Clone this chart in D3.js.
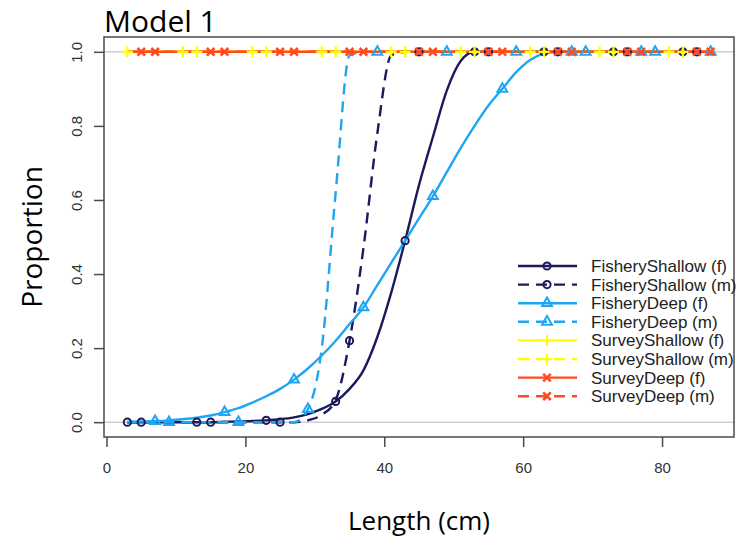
<!DOCTYPE html>
<html>
<head>
<meta charset="utf-8">
<script src="https://cdn.jsdelivr.net/npm/d3@7"></script>
<style>
    body { margin: 0; background: #fff; }
    text { font-family: "Liberation Sans", Arial, sans-serif; }
</style>
</head>
<body>
<svg id="chart"></svg>
<script>
// lengths (cm) where the selectivity curves were evaluated
let lengths = [3, 5, 7, 9, 11, 13, 15, 17, 19, 21, 23, 25, 27, 29, 31, 33, 35, 37, 39, 41, 43,
    45, 47, 49, 51, 53, 55, 57, 59, 61, 63, 65, 67, 69, 71, 73, 75, 77, 79, 81, 83, 85, 87];

let fisheryShallowF = [0, 0, 0, 0, 0, 0, 0, 0.001, 0.002, 0.003, 0.005, 0.008, 0.013, 0.022, 0.036, 0.056, 0.09, 0.14, 0.23, 0.35, 0.49,
    0.64, 0.77, 0.895, 0.975, 1, 1, 1, 1, 1, 1, 1, 1, 1, 1, 1, 1, 1, 1, 1, 1, 1, 1];
let fisheryShallowM = [0, 0, 0, 0, 0, 0, 0, 0, 0, 0, 0, 0, 0, 0.005, 0.02, 0.06, 0.22, 0.47, 0.78, 0.99, 1,
    1, 1, 1, 1, 1, 1, 1, 1, 1, 1, 1, 1, 1, 1, 1, 1, 1, 1, 1, 1, 1, 1];
let fisheryDeepF = [0.001, 0.002, 0.003, 0.005, 0.008, 0.012, 0.018, 0.027, 0.038, 0.053, 0.07, 0.09, 0.115, 0.145, 0.18, 0.22, 0.265, 0.31, 0.37, 0.43, 0.49,
    0.55, 0.61, 0.675, 0.74, 0.8, 0.855, 0.9, 0.945, 0.978, 0.995, 1, 1, 1, 1, 1, 1, 1, 1, 1, 1, 1, 1];
let fisheryDeepM = [0, 0, 0, 0, 0, 0, 0, 0, 0, 0, 0, 0, 0, 0.035, 0.2, 0.62, 0.99, 1, 1, 1, 1,
    1, 1, 1, 1, 1, 1, 1, 1, 1, 1, 1, 1, 1, 1, 1, 1, 1, 1, 1, 1, 1, 1];
let surveyShallowF = [1, 1, 1, 1, 1, 1, 1, 1, 1, 1, 1, 1, 1, 1, 1, 1, 1, 1, 1, 1, 1,
    1, 1, 1, 1, 1, 1, 1, 1, 1, 1, 1, 1, 1, 1, 1, 1, 1, 1, 1, 1, 1, 1];
let surveyShallowM = [1, 1, 1, 1, 1, 1, 1, 1, 1, 1, 1, 1, 1, 1, 1, 1, 1, 1, 1, 1, 1,
    1, 1, 1, 1, 1, 1, 1, 1, 1, 1, 1, 1, 1, 1, 1, 1, 1, 1, 1, 1, 1, 1];
let surveyDeepF = [1, 1, 1, 1, 1, 1, 1, 1, 1, 1, 1, 1, 1, 1, 1, 1, 1, 1, 1, 1, 1,
    1, 1, 1, 1, 1, 1, 1, 1, 1, 1, 1, 1, 1, 1, 1, 1, 1, 1, 1, 1, 1, 1];
let surveyDeepM = [1, 1, 1, 1, 1, 1, 1, 1, 1, 1, 1, 1, 1, 1, 1, 1, 1, 1, 1, 1, 1,
    1, 1, 1, 1, 1, 1, 1, 1, 1, 1, 1, 1, 1, 1, 1, 1, 1, 1, 1, 1, 1, 1];

let seriesNames = ["FisheryShallow (f)", "FisheryShallow (m)", "FisheryDeep (f)", "FisheryDeep (m)",
    "SurveyShallow (f)", "SurveyShallow (m)", "SurveyDeep (f)", "SurveyDeep (m)"];

let xTicks = [0, 20, 40, 60, 80];
let yTicks = [0, 0.2, 0.4, 0.6, 0.8, 1];

let width = 739;
let height = 539;
let box = { left: 104, top: 37, right: 734, bottom: 437 };

let navy = "#1c1a5c";
let sky = "#1ea6f2";
let yellow = "#ffff00";
let red = "#ff4a22";
let dash = "11,7";

let series = [
    { name: seriesNames[0], values: fisheryShallowF, color: navy, dash: null, shape: "circle", offset: 0 },
    { name: seriesNames[1], values: fisheryShallowM, color: navy, dash: dash, shape: "circle", offset: 1 },
    { name: seriesNames[2], values: fisheryDeepF, color: sky, dash: null, shape: "triangle", offset: 2 },
    { name: seriesNames[3], values: fisheryDeepM, color: sky, dash: dash, shape: "triangle", offset: 3 },
    { name: seriesNames[4], values: surveyShallowF, color: yellow, dash: null, shape: "plus", offset: 4 },
    { name: seriesNames[5], values: surveyShallowM, color: yellow, dash: dash, shape: "plus", offset: 0 },
    { name: seriesNames[6], values: surveyDeepF, color: red, dash: null, shape: "cross", offset: 1 },
    { name: seriesNames[7], values: surveyDeepM, color: red, dash: dash, shape: "cross", offset: 2 }
];

let svg = d3.select("#chart")
    .attr("width", width)
    .attr("height", height);

// R style 4% padding around the data range
let xExtent = d3.extent(lengths);
let xPad = (xExtent[1] - xExtent[0]) * 0.04;
let xScale = d3.scaleLinear()
    .domain([xExtent[0] - xPad, xExtent[1] + xPad])
    .range([box.left, box.right]);

let yScale = d3.scaleLinear()
    .domain([-0.04, 1.04])
    .range([box.bottom, box.top]);

// grey reference lines at 0 and 1
svg.selectAll(".ref")
    .data([0, 1])
    .enter()
    .append("line")
    .attr("x1", box.left)
    .attr("x2", box.right)
    .attr("y1", d => yScale(d))
    .attr("y2", d => yScale(d))
    .attr("stroke", "#cfcfcf")
    .attr("stroke-width", 1.5);

let line = d3.line()
    .x((d, i) => xScale(lengths[i]))
    .y(d => yScale(d))
    .curve(d3.curveMonotoneX);

let drawMarker = (g, shape, color) => {
    if (shape === "circle") {
        g.append("circle").attr("r", 3.6)
            .attr("fill", "none").attr("stroke", color).attr("stroke-width", 2);
    } else if (shape === "triangle") {
        g.append("path").attr("d", d3.symbol(d3.symbolTriangle, 42)())
            .attr("fill", "none").attr("stroke", color).attr("stroke-width", 2);
    } else if (shape === "plus") {
        g.append("path").attr("d", "M-5.5,0H5.5M0,-5.5V5.5")
            .attr("stroke", color).attr("stroke-width", 2.2);
    } else {
        g.append("path").attr("d", "M-3.8,-3.8L3.8,3.8M-3.8,3.8L3.8,-3.8")
            .attr("stroke", color).attr("stroke-width", 2.6);
    }
};

// curves
series.forEach(s => {
    svg.append("path")
        .datum(s.values)
        .attr("d", line)
        .attr("fill", "none")
        .attr("stroke", s.color)
        .attr("stroke-width", 2.4)
        .attr("stroke-dasharray", s.dash);
});

// point markers every fifth length, staggered by series
series.forEach(s => {
    let idx = d3.range(s.offset, lengths.length, 5);
    idx.forEach(i => {
        let g = svg.append("g")
            .attr("transform", `translate(${xScale(lengths[i])}, ${yScale(s.values[i])})`);
        drawMarker(g, s.shape, s.color);
    });
});

// box
svg.append("rect")
    .attr("x", box.left)
    .attr("y", box.top)
    .attr("width", box.right - box.left)
    .attr("height", box.bottom - box.top)
    .attr("fill", "none")
    .attr("stroke", "#4a4a4a")
    .attr("stroke-width", 1.5);

// axes
let xAxis = d3.axisBottom(xScale).tickValues(xTicks).tickSize(10).tickPadding(15).tickFormat(d3.format("d"));
let yAxis = d3.axisLeft(yScale).tickValues(yTicks).tickSize(10).tickFormat(d3.format(".1f"));

let gx = svg.append("g")
    .attr("transform", `translate(0, ${box.bottom})`)
    .call(xAxis);
gx.select(".domain").remove();

let gy = svg.append("g")
    .attr("transform", `translate(${box.left}, 0)`)
    .call(yAxis);
gy.select(".domain").remove();
gy.selectAll("text")
    .attr("x", 0)
    .attr("dy", 0)
    .attr("text-anchor", "middle")
    .attr("transform", "translate(-22, 0) rotate(-90)");

svg.selectAll(".tick line").attr("stroke", "#4a4a4a").attr("stroke-width", 1.5);
svg.selectAll(".tick text")
    .attr("fill", "#333")
    .style("font-family", "'Liberation Sans', Arial, sans-serif")
    .style("font-size", "15px");

// titles
svg.append("text")
    .attr("x", 104)
    .attr("y", 32)
    .style("font-family", "'Open Sans', sans-serif")
    .style("font-size", "30px")
    .attr("fill", "#000")
    .text("Model 1");

svg.append("text")
    .attr("x", 419)
    .attr("y", 530)
    .attr("text-anchor", "middle")
    .style("font-family", "'Open Sans', sans-serif")
    .style("font-size", "26px")
    .attr("fill", "#000")
    .text("Length (cm)");

svg.append("text")
    .attr("transform", "translate(42, 237) rotate(-90)")
    .attr("text-anchor", "middle")
    .style("font-family", "'Open Sans', sans-serif")
    .style("font-size", "28px")
    .attr("fill", "#000")
    .text("Proportion");

// legend
let legend = svg.append("g").attr("transform", "translate(518, 266)");
series.forEach((s, i) => {
    let row = legend.append("g").attr("transform", `translate(0, ${i * 18.6})`);
    row.append("line")
        .attr("x1", 0).attr("x2", 59)
        .attr("y1", 0).attr("y2", 0)
        .attr("stroke", s.color)
        .attr("stroke-width", 2.4)
        .attr("stroke-dasharray", s.dash);
    drawMarker(row.append("g").attr("transform", "translate(29, 0)"), s.shape, s.color);
    row.append("text")
        .attr("x", 73)
        .attr("y", 0)
        .attr("dy", "0.35em")
        .attr("fill", "#222")
        .style("font-size", "17px")
        .text(s.name);
});
</script>
</body>
</html>
